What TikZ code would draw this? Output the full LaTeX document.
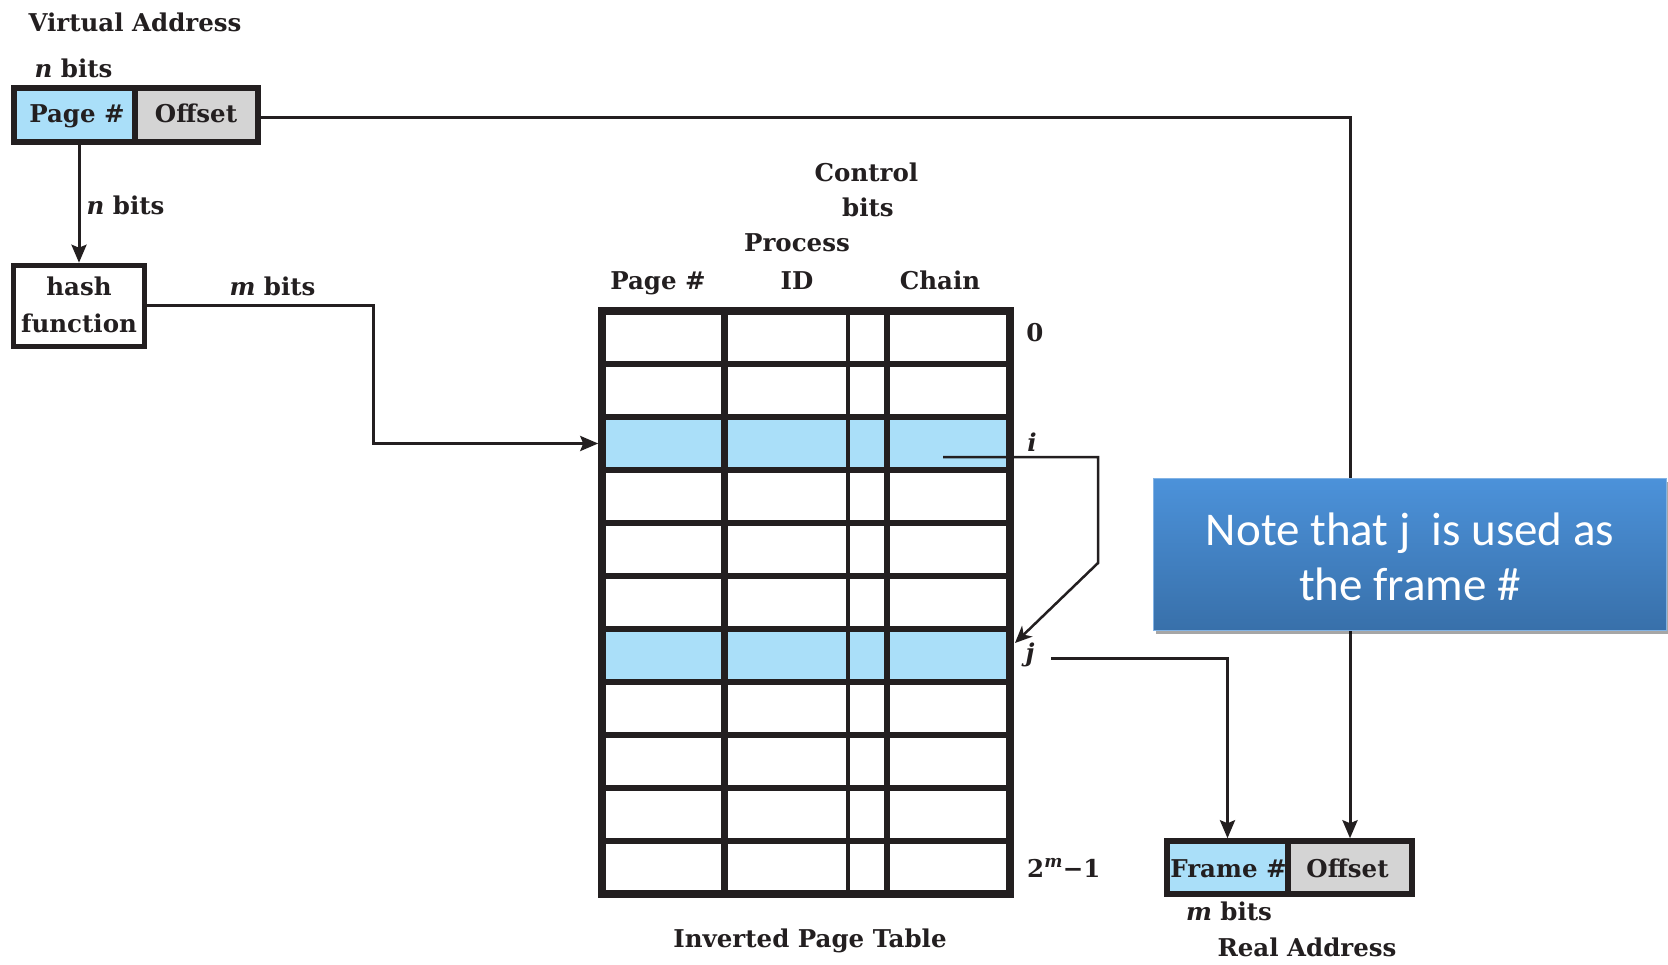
\documentclass[tikz,border=0pt]{standalone}
\usepackage{fontspec}
\setmainfont{DejaVu Serif}
\newfontfamily\notefont{Carlito}
\usetikzlibrary{arrows.meta,calc,shadows}

\definecolor{ink}{RGB}{35,31,32}
\definecolor{cellblue}{RGB}{170,223,249}
\definecolor{cellgray}{RGB}{212,212,212}
\definecolor{notetop}{RGB}{76,146,218}
\definecolor{notebot}{RGB}{56,112,170}

\begin{document}
\begin{tikzpicture}[x=1pt,y=-1pt,
  lbl/.style={font=\fontsize{24.5}{30}\selectfont\bfseries, text=ink, inner sep=0pt, anchor=base},
  conn/.style={draw=ink, line width=3pt},
  tip/.style={-{Stealth[length=18pt,width=15pt,inset=3pt]}},
  cell/.style={draw=ink, line width=5.5pt, inner sep=0pt},
  grid/.style={draw=ink, line width=6.5pt},
  notebox/.style={minimum width=513pt, minimum height=152pt, inner sep=0pt,
    top color=notetop, bottom color=notebot, draw=notetop!70!white, line width=1pt,
    drop shadow={shadow xshift=3pt, shadow yshift=-4pt, opacity=0.35, fill=black}},
  notetext/.style={font=\notefont\fontsize{47}{55}\selectfont, text=white, align=center, inner sep=0pt}
]
\useasboundingbox (0,0) rectangle (1668,965);

% ---- virtual address ----
\node[lbl] (vatitle) at (135,32) {Virtual Address};
\node[lbl] (vabits) at (73.5,78) {{\itshape n} bits};
\node[cell, fill=cellblue, minimum width=121pt, minimum height=54pt] (vpage) at (74.5,115) {};
\node[cell, fill=cellgray, minimum width=123pt, minimum height=54pt] (voff) at (196.5,115) {};
\node[lbl] (vpagetxt) at (77,123) {Page \#};
\node[lbl] (vofftxt) at (196,123) {Offset};

% ---- hash function ----
\node[cell, minimum width=131pt, minimum height=81pt] (hash) at (79,306) {};
\node[lbl] (hash1) at (79,296) {hash};
\node[lbl] (hash2) at (79,333) {function};
\draw[conn,tip] (hash.north |- vpage.south) -- (hash.north);
\node[lbl] (nbits) at (125.5,215) {{\itshape n} bits};
\node[lbl] (mbits) at (272.5,296) {{\itshape m} bits};

% ---- inverted page table ----
\fill[cellblue] (602,417) rectangle (1010,470);
\fill[cellblue] (602,629) rectangle (1010,682);
\foreach \k in {1,...,10}
  \draw[grid] (602,{311+53*\k}) -- (1010,{311+53*\k});
\draw[ink, line width=7pt] (724,311) -- (724,894);
\draw[ink, line width=4.5pt] (848,311) -- (848,894);
\draw[ink, line width=6pt] (887,311) -- (887,894);
\draw[ink, line width=7.5pt] (602,311) rectangle (1010,894);

\coordinate (rowI) at (598.25,443.5);
\coordinate (chainI) at (943,457);
\coordinate (rowJ) at (1015,643);
\coordinate (jout) at (1051,658);

\node[lbl] (hdctl) at (866.5,182) {Control};
\node[lbl] (hdbits) at (868,217) {bits};
\node[lbl] (hdproc) at (797,252) {Process};
\node[lbl] (hdpage) at (658,290) {Page \#};
\node[lbl] (hdid) at (797,290) {ID};
\node[lbl] (hdchain) at (940,290) {Chain};

\node[lbl] (lab0) at (1035,342) {0};
\node[lbl] (labi) at (1032,451) {\itshape i};
\node[lbl] (labj) at (1030,661) {\itshape j};
\node[lbl, anchor=base west] (labm) at (1027,877) {2\textsuperscript{\itshape m}−1};
\node[lbl] (ipt) at (810,947) {Inverted Page Table};

% hash value indexes the table
\draw[conn,tip] (hash.east) -- ++(226,0) |- (rowI);
% chain pointer from entry i to entry j
\draw[draw=ink, line width=2.5pt, -{Stealth[length=17pt,width=15pt,inset=5pt]}]
  (chainI) -| (1098,563) -- (rowJ);

% ---- real address ----
\node[cell, fill=cellblue, minimum width=121pt, minimum height=53pt] (rframe) at (1227.5,867.5) {};
\node[cell, fill=cellgray, minimum width=124pt, minimum height=53pt] (roff) at (1350,867.5) {};
\node[lbl] (rframetxt) at (1228.5,877) {Frame \#};
\node[lbl] (rofftxt) at (1347.5,877) {Offset};
\node[lbl] (rmbits) at (1229,920) {{\itshape m} bits};
\node[lbl] (ratitle) at (1307,956) {Real Address};

\draw[conn,tip] (jout) -| (rframe.north);
\draw[conn,tip] ([yshift=-3pt]voff.east) -| (roff.north);

% ---- note ----
\node[notebox] (note) at (1409.5,554) {};
\node[notetext] (notetxt) at (1410,557) {Note that j\ \ is used as\\the frame \#};
\end{tikzpicture}
\end{document}
